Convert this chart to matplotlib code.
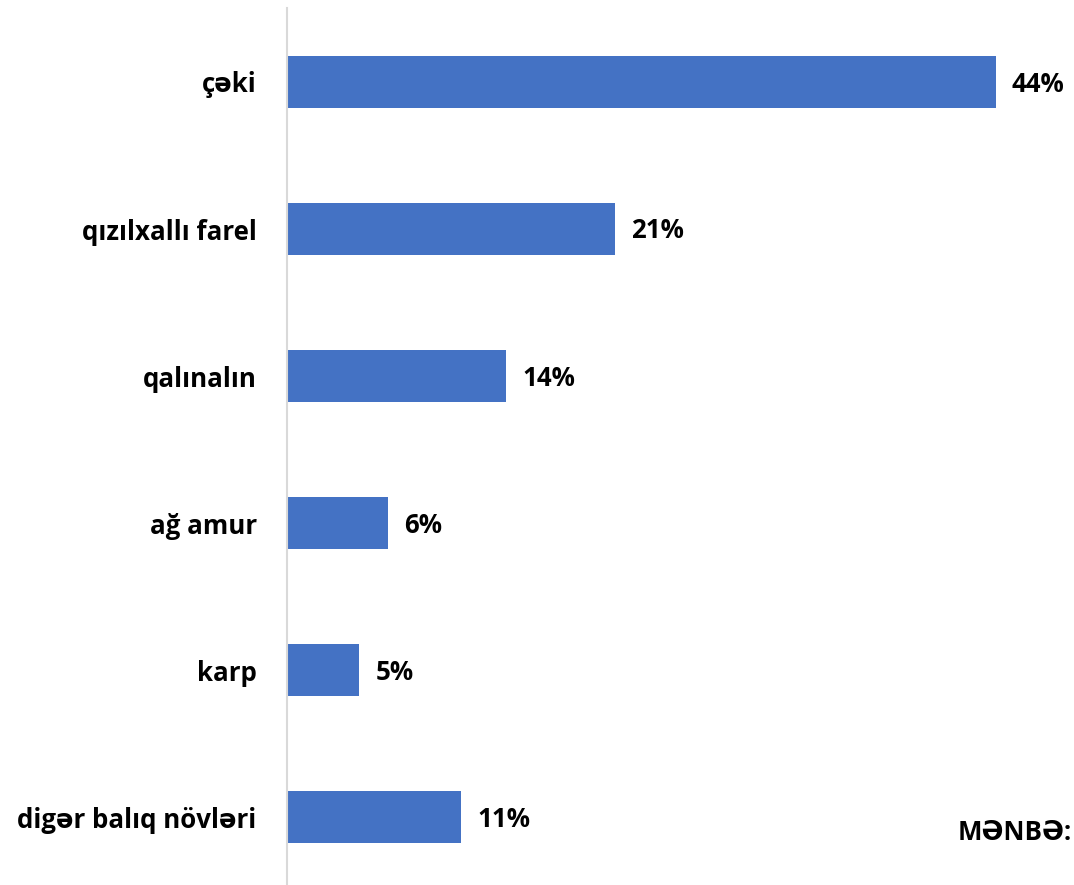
import matplotlib
matplotlib.use("Agg")
import matplotlib.pyplot as plt

# ── Veri ─────────────────────────────────────────────────────────────────────
categories = ["çəki", "qızılxallı farel", "qalınalın", "ağ amur", "karp",
              "digər balıq növləri"]
values = [43.9, 20.3, 13.6, 6.3, 4.5, 10.8]
labels = ["44%", "21%", "14%", "6%", "5%", "11%"]
source_text = "MƏNBƏ:"
# ─────────────────────────────────────────────────────────────────────────────

BAR_COLOR = "#4472C4"
FONT = ["Open Sans", "DejaVu Sans"]
FS = 18.6

W, H = 1074, 885
fig = plt.figure(figsize=(W / 100, H / 100), dpi=100)

left_px = 286.5
ax = fig.add_axes([left_px / W, 0, 1 - left_px / W, 1])

# pikselden veri koordinatına: merkez 82 px, aralık 147 px
y_top = -82 / 147
y_bot = (H - 82) / 147
px_per_pct = (996 - left_px) / 43.9

pos = list(range(len(categories)))
ax.barh(pos, values, height=0.355, color=BAR_COLOR)
ax.set_ylim(y_bot, y_top)
ax.set_xlim(0, (W - left_px) / px_per_pct)

for p, v, lbl in zip(pos, values, labels):
    ax.text(v + 16 / px_per_pct, p + 2 / 147, lbl, va="center", ha="left",
            fontsize=FS, fontweight="bold", family=FONT)

ax.set_yticks(pos)
ax.set_yticklabels(categories, fontsize=FS, fontweight="bold", family=FONT)
ax.tick_params(axis="y", length=0, pad=21.5)
ax.set_xticks([])

for s in ["top", "right", "bottom"]:
    ax.spines[s].set_visible(False)
ax.spines["left"].set_color("#D9D9D9")
ax.spines["left"].set_linewidth(1.5)
ax.spines["left"].set_bounds(y_bot, y_top + 8 / 147)

fig.text(1072 / W, 1 - 832 / H, source_text, ha="right", va="center",
         fontsize=FS, fontweight="bold", family=FONT)

fig.savefig("out.png", dpi=100)
